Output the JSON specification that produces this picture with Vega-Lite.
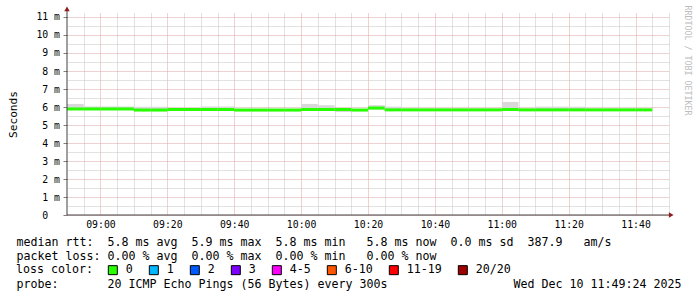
{
  "$schema": "https://vega.github.io/schema/vega-lite/v6.json",
  "width": 602,
  "height": 202,
  "autosize": {"type": "none"},
  "padding": {"left": 67, "top": 13, "right": 28, "bottom": 82},
  "background": "white",
  "config": {
    "view": {"stroke": null},
    "axis": {
      "labelFont": "DejaVu Sans Mono", "labelFontSize": 9.8, "labelColor": "#000000",
      "titleFont": "DejaVu Sans Mono", "titleFontSize": 11.63, "titleFontWeight": "normal", "titleColor": "#000000",
      "gridDash": [1, 1], "gridWidth": 1, "gridOpacity": 1, "domain": false, "ticks": false
    }
  },
  "data": {"values": [
    {"start": "2025-12-10T08:50:00", "end": "2025-12-10T08:55:00", "med": 5.89, "lo": 5.83, "hi": 6.17, "loss": "0"},
    {"start": "2025-12-10T08:55:00", "end": "2025-12-10T09:00:00", "med": 5.89, "lo": 5.83, "hi": 6.03, "loss": "0"},
    {"start": "2025-12-10T09:00:00", "end": "2025-12-10T09:05:00", "med": 5.89, "lo": 5.83, "hi": 6.03, "loss": "0"},
    {"start": "2025-12-10T09:05:00", "end": "2025-12-10T09:10:00", "med": 5.89, "lo": 5.83, "hi": 6.03, "loss": "0"},
    {"start": "2025-12-10T09:10:00", "end": "2025-12-10T09:15:00", "med": 5.83, "lo": 5.77, "hi": 6.01, "loss": "0"},
    {"start": "2025-12-10T09:15:00", "end": "2025-12-10T09:20:00", "med": 5.83, "lo": 5.77, "hi": 6.01, "loss": "0"},
    {"start": "2025-12-10T09:20:00", "end": "2025-12-10T09:25:00", "med": 5.86, "lo": 5.80, "hi": 5.93, "loss": "0"},
    {"start": "2025-12-10T09:25:00", "end": "2025-12-10T09:30:00", "med": 5.86, "lo": 5.80, "hi": 5.93, "loss": "0"},
    {"start": "2025-12-10T09:30:00", "end": "2025-12-10T09:35:00", "med": 5.86, "lo": 5.80, "hi": 6.03, "loss": "0"},
    {"start": "2025-12-10T09:35:00", "end": "2025-12-10T09:40:00", "med": 5.86, "lo": 5.80, "hi": 6.03, "loss": "0"},
    {"start": "2025-12-10T09:40:00", "end": "2025-12-10T09:45:00", "med": 5.83, "lo": 5.77, "hi": 5.90, "loss": "0"},
    {"start": "2025-12-10T09:45:00", "end": "2025-12-10T09:50:00", "med": 5.83, "lo": 5.77, "hi": 5.90, "loss": "0"},
    {"start": "2025-12-10T09:50:00", "end": "2025-12-10T09:55:00", "med": 5.83, "lo": 5.77, "hi": 5.90, "loss": "0"},
    {"start": "2025-12-10T09:55:00", "end": "2025-12-10T10:00:00", "med": 5.83, "lo": 5.77, "hi": 5.90, "loss": "0"},
    {"start": "2025-12-10T10:00:00", "end": "2025-12-10T10:05:00", "med": 5.86, "lo": 5.80, "hi": 6.17, "loss": "0"},
    {"start": "2025-12-10T10:05:00", "end": "2025-12-10T10:10:00", "med": 5.86, "lo": 5.80, "hi": 6.10, "loss": "0"},
    {"start": "2025-12-10T10:10:00", "end": "2025-12-10T10:15:00", "med": 5.86, "lo": 5.72, "hi": 5.93, "loss": "0"},
    {"start": "2025-12-10T10:15:00", "end": "2025-12-10T10:20:00", "med": 5.83, "lo": 5.77, "hi": 5.90, "loss": "0"},
    {"start": "2025-12-10T10:20:00", "end": "2025-12-10T10:25:00", "med": 5.94, "lo": 5.86, "hi": 6.10, "loss": "0"},
    {"start": "2025-12-10T10:25:00", "end": "2025-12-10T10:30:00", "med": 5.84, "lo": 5.78, "hi": 6.02, "loss": "0"},
    {"start": "2025-12-10T10:30:00", "end": "2025-12-10T10:35:00", "med": 5.84, "lo": 5.78, "hi": 5.91, "loss": "0"},
    {"start": "2025-12-10T10:35:00", "end": "2025-12-10T10:40:00", "med": 5.84, "lo": 5.78, "hi": 5.91, "loss": "0"},
    {"start": "2025-12-10T10:40:00", "end": "2025-12-10T10:45:00", "med": 5.84, "lo": 5.78, "hi": 5.91, "loss": "0"},
    {"start": "2025-12-10T10:45:00", "end": "2025-12-10T10:50:00", "med": 5.84, "lo": 5.78, "hi": 5.91, "loss": "0"},
    {"start": "2025-12-10T10:50:00", "end": "2025-12-10T10:55:00", "med": 5.84, "lo": 5.78, "hi": 5.91, "loss": "0"},
    {"start": "2025-12-10T10:55:00", "end": "2025-12-10T11:00:00", "med": 5.84, "lo": 5.78, "hi": 5.91, "loss": "0"},
    {"start": "2025-12-10T11:00:00", "end": "2025-12-10T11:05:00", "med": 5.86, "lo": 5.80, "hi": 6.28, "loss": "0"},
    {"start": "2025-12-10T11:05:00", "end": "2025-12-10T11:10:00", "med": 5.84, "lo": 5.78, "hi": 5.91, "loss": "0"},
    {"start": "2025-12-10T11:10:00", "end": "2025-12-10T11:15:00", "med": 5.84, "lo": 5.78, "hi": 6.02, "loss": "0"},
    {"start": "2025-12-10T11:15:00", "end": "2025-12-10T11:20:00", "med": 5.84, "lo": 5.78, "hi": 6.02, "loss": "0"},
    {"start": "2025-12-10T11:20:00", "end": "2025-12-10T11:25:00", "med": 5.84, "lo": 5.78, "hi": 6.02, "loss": "0"},
    {"start": "2025-12-10T11:25:00", "end": "2025-12-10T11:30:00", "med": 5.84, "lo": 5.78, "hi": 5.91, "loss": "0"},
    {"start": "2025-12-10T11:30:00", "end": "2025-12-10T11:35:00", "med": 5.84, "lo": 5.78, "hi": 5.91, "loss": "0"},
    {"start": "2025-12-10T11:35:00", "end": "2025-12-10T11:40:00", "med": 5.84, "lo": 5.78, "hi": 5.91, "loss": "0"},
    {"start": "2025-12-10T11:40:00", "end": "2025-12-10T11:45:00", "med": 5.84, "lo": 5.78, "hi": 5.91, "loss": "0"}
  ]},
  "layer": [
    {
      "mark": {"type": "rect", "color": "#d8d8d8", "strokeWidth": 0},
      "encoding": {
        "x": {
          "field": "start", "type": "temporal",
          "scale": {"domain": [{"year": 2025, "month": 12, "date": 10, "hours": 8, "minutes": 50}, {"year": 2025, "month": 12, "date": 10, "hours": 11, "minutes": 50}], "nice": false},
          "axis": {
            "orient": "bottom",
            "values": [
              {"year": 2025, "month": 12, "date": 10, "hours": 8, "minutes": 55},
              {"year": 2025, "month": 12, "date": 10, "hours": 9, "minutes": 5},
              {"year": 2025, "month": 12, "date": 10, "hours": 9, "minutes": 10},
              {"year": 2025, "month": 12, "date": 10, "hours": 9, "minutes": 15},
              {"year": 2025, "month": 12, "date": 10, "hours": 9, "minutes": 25},
              {"year": 2025, "month": 12, "date": 10, "hours": 9, "minutes": 30},
              {"year": 2025, "month": 12, "date": 10, "hours": 9, "minutes": 35},
              {"year": 2025, "month": 12, "date": 10, "hours": 9, "minutes": 45},
              {"year": 2025, "month": 12, "date": 10, "hours": 9, "minutes": 50},
              {"year": 2025, "month": 12, "date": 10, "hours": 9, "minutes": 55},
              {"year": 2025, "month": 12, "date": 10, "hours": 10, "minutes": 5},
              {"year": 2025, "month": 12, "date": 10, "hours": 10, "minutes": 10},
              {"year": 2025, "month": 12, "date": 10, "hours": 10, "minutes": 15},
              {"year": 2025, "month": 12, "date": 10, "hours": 10, "minutes": 25},
              {"year": 2025, "month": 12, "date": 10, "hours": 10, "minutes": 30},
              {"year": 2025, "month": 12, "date": 10, "hours": 10, "minutes": 35},
              {"year": 2025, "month": 12, "date": 10, "hours": 10, "minutes": 45},
              {"year": 2025, "month": 12, "date": 10, "hours": 10, "minutes": 50},
              {"year": 2025, "month": 12, "date": 10, "hours": 10, "minutes": 55},
              {"year": 2025, "month": 12, "date": 10, "hours": 11, "minutes": 5},
              {"year": 2025, "month": 12, "date": 10, "hours": 11, "minutes": 10},
              {"year": 2025, "month": 12, "date": 10, "hours": 11, "minutes": 15},
              {"year": 2025, "month": 12, "date": 10, "hours": 11, "minutes": 25},
              {"year": 2025, "month": 12, "date": 10, "hours": 11, "minutes": 30},
              {"year": 2025, "month": 12, "date": 10, "hours": 11, "minutes": 35},
              {"year": 2025, "month": 12, "date": 10, "hours": 11, "minutes": 45},
              {"year": 2025, "month": 12, "date": 10, "hours": 11, "minutes": 50}
            ],
            "grid": true, "gridColor": "#c4c4c4", "labels": false,
            "title": "probe:\u00a0\u00a0\u00a0\u00a0\u00a0\u00a0\u00a020\u00a0ICMP\u00a0Echo\u00a0Pings\u00a0(56\u00a0Bytes)\u00a0every\u00a0300s\u00a0\u00a0\u00a0\u00a0\u00a0\u00a0\u00a0\u00a0\u00a0\u00a0\u00a0\u00a0\u00a0\u00a0\u00a0\u00a0\u00a0\u00a0Wed\u00a0Dec\u00a010\u00a011:49:24\u00a02025",
            "titleX": -51, "titleY": 72, "titleAnchor": "start", "titleAlign": "left", "titleBaseline": "alphabetic"
          }
        },
        "x2": {"field": "end"},
        "y": {
          "field": "lo", "type": "quantitative",
          "scale": {"domain": [0, 11.222222], "nice": false, "zero": true},
          "axis": {
            "orient": "right", "values": [0.5, 1.5, 2.5, 3.5, 4.5, 5.5, 6.5, 7.5, 8.5, 9.5, 10.5],
            "grid": true, "gridColor": "#c4c4c4", "labels": false,
            "title": "RRDTOOL\u00a0/\u00a0TOBI\u00a0OETIKER", "titleAngle": 90, "titleX": 15.5, "titleY": -8,
            "titleAlign": "left", "titleBaseline": "alphabetic", "titleFontSize": 8.3, "titleColor": "#bdbdbd"
          }
        },
        "y2": {"field": "hi"}
      }
    },
    {
      "mark": {"type": "rule", "strokeWidth": 3, "strokeCap": "butt", "color": "#26ff00"},
      "encoding": {
        "x": {
          "field": "start", "type": "temporal",
          "axis": {
            "orient": "bottom",
            "values": [
              {"year": 2025, "month": 12, "date": 10, "hours": 9, "minutes": 0},
              {"year": 2025, "month": 12, "date": 10, "hours": 9, "minutes": 20},
              {"year": 2025, "month": 12, "date": 10, "hours": 9, "minutes": 40},
              {"year": 2025, "month": 12, "date": 10, "hours": 10, "minutes": 0},
              {"year": 2025, "month": 12, "date": 10, "hours": 10, "minutes": 20},
              {"year": 2025, "month": 12, "date": 10, "hours": 10, "minutes": 40},
              {"year": 2025, "month": 12, "date": 10, "hours": 11, "minutes": 0},
              {"year": 2025, "month": 12, "date": 10, "hours": 11, "minutes": 20},
              {"year": 2025, "month": 12, "date": 10, "hours": 11, "minutes": 40}
            ],
            "format": "%H:%M",
            "grid": true, "gridColor": "#dda4a4", "labelPadding": 4, "labelFlush": false, "labelOverlap": false,
            "title": [
              "median\u00a0rtt:\u00a0\u00a05.8\u00a0ms\u00a0avg\u00a0\u00a05.9\u00a0ms\u00a0max\u00a0\u00a05.8\u00a0ms\u00a0min\u00a0\u00a0\u00a05.8\u00a0ms\u00a0now\u00a0\u00a00.0\u00a0ms\u00a0sd\u00a0\u00a0387.9\u00a0\u00a0\u00a0am/s",
              "packet\u00a0loss:\u00a00.00\u00a0%\u00a0avg\u00a0\u00a00.00\u00a0%\u00a0max\u00a0\u00a00.00\u00a0%\u00a0min\u00a0\u00a0\u00a00.00\u00a0%\u00a0now"
            ],
            "titleX": -51, "titleY": 30, "titleAnchor": "start", "titleAlign": "left", "titleBaseline": "alphabetic", "titleLineHeight": 14
          }
        },
        "x2": {"field": "end"},
        "y": {
          "field": "med", "type": "quantitative",
          "axis": {
            "orient": "left", "values": [0, 1, 2, 3, 4, 5, 6, 7, 8, 9, 10, 11],
            "grid": true, "gridColor": "#dda4a4", "ticks": true, "tickSize": 4, "tickColor": "#808080",
            "labelPadding": {"condition": {"test": "datum.value == 0", "value": 15.3}, "value": 3.5},
            "labelExpr": "datum.value == 0 ? '0' : datum.value + ' m'",
            "title": "Seconds", "titleAngle": -90, "titleX": -51, "titleY": 101, "titleAlign": "center", "titleBaseline": "alphabetic", "titleFontSize": 11.2
          }
        }
      }
    },
    {
      "mark": {"type": "point", "shape": "square", "filled": true, "opacity": 0, "size": 9},
      "encoding": {
        "x": {"field": "start", "type": "temporal", "axis": null},
        "y": {"field": "med", "type": "quantitative", "axis": null},
        "color": {
          "field": "loss", "type": "nominal",
          "scale": {
            "domain": ["0", "1", "2", "3", "4-5", "6-10", "11-19", "20/20"],
            "range": ["#26ff00", "#00b8ff", "#0059ff", "#7e00ff", "#ff00ff", "#ff5500", "#ff0000", "#a10000"]
          },
          "legend": {
            "orient": "none", "legendX": -51, "legendY": 251, "direction": "horizontal",
            "title": "loss\u00a0color:", "titleOrient": "left", "titlePadding": 14,
            "titleFont": "DejaVu Sans Mono", "titleFontSize": 11.63, "titleFontWeight": "normal", "titleColor": "#000000",
            "titleBaseline": "middle", "titleAnchor": "middle",
            "labelFont": "DejaVu Sans Mono", "labelFontSize": 11.63, "labelColor": "#000000", "labelOffset": 7,
            "columnPadding": 14, "padding": 0,
            "symbolType": "square", "symbolSize": 81, "symbolStrokeColor": "#000000", "symbolStrokeWidth": 1, "symbolOpacity": 1
          }
        }
      }
    },
    {
      "data": {"values": [{}]},
      "mark": {"type": "rule", "color": "#404040", "strokeWidth": 1, "clip": false},
      "encoding": {
        "x": {"datum": {"year": 2025, "month": 12, "date": 10, "hours": 8, "minutes": 50}, "type": "temporal", "axis": null},
        "x2": {"datum": {"year": 2025, "month": 12, "date": 10, "hours": 11, "minutes": 50, "seconds": 30}},
        "y": {"datum": 0, "type": "quantitative", "axis": null}
      }
    },
    {
      "data": {"values": [{}]},
      "mark": {"type": "rule", "color": "#404040", "strokeWidth": 1, "clip": false},
      "encoding": {
        "x": {"datum": {"year": 2025, "month": 12, "date": 10, "hours": 8, "minutes": 50}, "type": "temporal", "axis": null},
        "y": {"datum": 0, "type": "quantitative", "axis": null},
        "y2": {"datum": 11.4}
      }
    },
    {
      "data": {"values": [{}]},
      "mark": {"type": "point", "shape": "triangle-up", "filled": true, "color": "#8f1d1d", "size": 30, "opacity": 1, "clip": false},
      "encoding": {
        "x": {"datum": {"year": 2025, "month": 12, "date": 10, "hours": 8, "minutes": 50}, "type": "temporal", "axis": null},
        "y": {"datum": 11.45, "type": "quantitative", "axis": null}
      }
    },
    {
      "data": {"values": [{}]},
      "mark": {"type": "point", "shape": "triangle-right", "filled": true, "color": "#8f1d1d", "size": 30, "opacity": 1, "clip": false},
      "encoding": {
        "x": {"datum": {"year": 2025, "month": 12, "date": 10, "hours": 11, "minutes": 50, "seconds": 40}, "type": "temporal", "axis": null},
        "y": {"datum": 0, "type": "quantitative", "axis": null}
      }
    }
  ],
  "resolve": {"axis": {"x": "independent", "y": "independent"}}
}
